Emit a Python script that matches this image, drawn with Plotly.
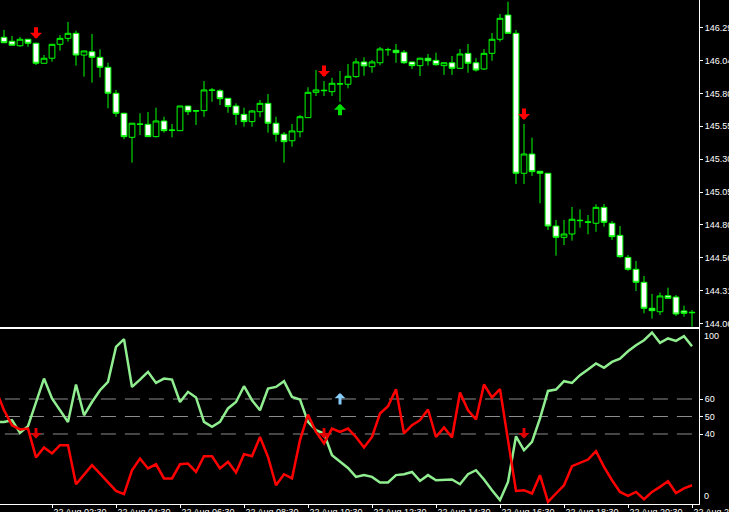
import plotly.graph_objects as go

# ---- 15-minute bars, 22 Aug 01:00 ... 22:30 (index 0..86) ----
opens = [146.224, 146.194, 146.160, 146.209, 146.179, 146.028, 146.066, 146.171, 146.216, 146.254,
         146.090, 146.115, 146.073, 145.998, 145.802, 145.651, 145.470, 145.570, 145.568, 145.475,
         145.593, 145.525, 145.520, 145.706, 145.671, 145.671, 145.827, 145.821, 145.764, 145.706,
         145.643, 145.588, 145.663, 145.726, 145.576, 145.493, 145.444, 145.512, 145.618, 145.809,
         145.821, 145.814, 145.872, 145.870, 145.927, 146.038, 146.002, 146.032, 146.130, 146.126,
         146.111, 146.038, 146.010, 146.066, 146.050, 146.010, 146.032, 145.990, 146.103, 146.032,
         145.985, 146.103, 146.209, 146.392, 146.254, 145.199, 145.344, 145.214, 145.199, 144.801,
         144.716, 144.741, 144.841, 144.829, 144.822, 144.942, 144.822, 144.731, 144.565, 144.475,
         144.377, 144.181, 144.155, 144.276, 144.266, 144.161, 144.151]
highs = [146.279, 146.234, 146.226, 146.211, 146.183, 146.090, 146.173, 146.241, 146.339, 146.274,
         146.122, 146.249, 146.133, 146.032, 145.827, 145.655, 145.578, 145.651, 145.661, 145.693,
         145.625, 145.570, 145.707, 145.707, 145.676, 145.894, 145.842, 145.832, 145.766, 145.726,
         145.693, 145.676, 145.751, 145.796, 145.625, 145.510, 145.570, 145.638, 145.847, 145.977,
         145.894, 145.919, 145.970, 146.023, 146.066, 146.073, 146.053, 146.151, 146.145, 146.173,
         146.128, 146.040, 146.070, 146.098, 146.108, 146.033, 146.083, 146.136, 146.173, 146.066,
         146.136, 146.256, 146.399, 146.492, 146.279, 145.570, 145.467, 145.216, 145.201, 144.847,
         144.847, 144.945, 144.927, 144.884, 144.965, 144.967, 144.839, 144.801, 144.583, 144.538,
         144.424, 144.289, 144.299, 144.336, 144.281, 144.201, 144.168]
lows = [146.180, 146.162, 146.153, 146.153, 146.015, 146.026, 146.040, 146.123, 146.191, 146.010,
        145.927, 145.882, 145.922, 145.689, 145.625, 145.455, 145.279, 145.487, 145.472, 145.469,
        145.505, 145.470, 145.519, 145.638, 145.563, 145.625, 145.738, 145.714, 145.655, 145.563,
        145.550, 145.550, 145.621, 145.505, 145.437, 145.279, 145.399, 145.470, 145.617, 145.781,
        145.781, 145.781, 145.738, 145.839, 145.919, 145.934, 145.957, 146.013, 146.085, 146.032,
        146.023, 145.985, 145.932, 146.010, 146.010, 145.940, 145.940, 145.985, 145.957, 145.965,
        145.977, 146.047, 146.191, 146.252, 145.118, 145.118, 145.178, 144.973, 144.771, 144.578,
        144.658, 144.691, 144.789, 144.739, 144.758, 144.796, 144.696, 144.562, 144.464, 144.311,
        144.143, 144.103, 144.131, 144.255, 144.123, 144.118, 144.042]
closes = [146.183, 146.164, 146.209, 146.179, 146.028, 146.066, 146.171, 146.216, 146.254, 146.090,
          146.121, 146.073, 145.998, 145.802, 145.651, 145.475, 145.576, 145.568, 145.475, 145.593,
          145.520, 145.523, 145.706, 145.663, 145.668, 145.827, 145.824, 145.761, 145.701, 145.643,
          145.588, 145.668, 145.726, 145.576, 145.493, 145.437, 145.518, 145.625, 145.809, 145.827,
          145.824, 145.877, 145.873, 145.930, 146.038, 146.008, 146.038, 146.136, 146.131, 146.108,
          146.032, 146.010, 146.066, 146.047, 146.017, 146.032, 145.990, 146.098, 146.028, 145.977,
          146.103, 146.209, 146.367, 146.254, 145.199, 145.344, 145.211, 145.199, 144.801, 144.716,
          144.741, 144.852, 144.844, 144.832, 144.942, 144.829, 144.721, 144.570, 144.475, 144.377,
          144.181, 144.163, 144.274, 144.256, 144.138, 144.143, 144.148]

# ---- oscillator (index -1 ... 86) ----
green_line = [46.9, 46.9, 47.9, 40.6, 44.5, 58.2, 71.7, 60.3, 53.6, 46.9,
              68.3, 50.7, 58.3, 65.0, 69.8, 89.8, 94.2, 66.9, 71.1, 75.5,
              69.2, 71.7, 71.1, 58.3, 64.1, 60.9, 46.9, 44.1, 46.9, 54.6,
              58.3, 67.3, 59.3, 53.6, 66.0, 66.9, 70.2, 61.2, 59.7, 46.9,
              42.2, 40.3, 27.9, 24.1, 20.6, 15.5, 16.5, 15.5, 12.3, 12.3,
              16.5, 17.0, 18.3, 13.2, 16.5, 13.6, 14.0, 14.0, 11.3, 17.0,
              19.3, 14.0, 7.9, 2.2, 12.6, 38.7, 30.7, 35.5, 48.9, 64.6,
              65.4, 70.2, 69.2, 73.6, 76.9, 80.3, 77.8, 81.2, 83.1, 87.3,
              90.7, 93.6, 98.0, 92.1, 94.6, 93.2, 95.9, 90.2]
red_line = [65.0, 53.6, 45.0, 42.6, 43.1, 26.6, 32.3, 28.9, 33.6, 33.6,
            11.3, 16.9, 22.2, 17.4, 12.3, 7.5, 5.6, 19.3, 26.0, 20.3,
            22.7, 14.6, 14.6, 22.7, 23.1, 18.3, 27.3, 27.3, 20.3, 24.1,
            18.0, 28.5, 27.3, 38.3, 26.9, 10.7, 17.0, 14.6, 36.5, 51.1,
            41.2, 34.6, 43.1, 41.2, 43.1, 38.3, 32.3, 38.3, 51.7, 55.9,
            65.6, 40.3, 45.0, 47.9, 54.0, 38.3, 43.7, 38.0, 63.7, 53.6,
            48.3, 68.3, 60.9, 65.6, 36.5, 7.5, 7.9, 6.0, 16.5, 1.2,
            6.0, 10.7, 21.6, 23.5, 25.4, 30.2, 21.2, 13.6, 6.9, 4.6,
            6.9, 2.7, 6.9, 9.8, 13.0, 6.3, 8.9, 10.7]

sell_signals = [4, 40, 65]
buy_signals = [42]
levels = [40, 50, 60]
osc_sell_mark = 37.5
osc_buy_mark = 63.5

price_ticks = [144.065, 144.313, 144.561, 144.809, 145.057, 145.305, 145.553, 145.801, 146.049, 146.297]
price_tick_labels = ["144.065", "144.313", "144.561", "144.809", "145.057", "145.305",
                     "145.553", "145.801", "146.049", "146.297"]
time_tick_idx = [6, 14, 22, 30, 38, 46, 54, 62, 70, 78, 86]
time_tick_labels = ["22 Aug 02:30", "22 Aug 04:30", "22 Aug 06:30", "22 Aug 08:30", "22 Aug 10:30",
                    "22 Aug 12:30", "22 Aug 14:30", "22 Aug 16:30", "22 Aug 18:30", "22 Aug 20:30",
                    "22 Aug 22:30"]
first_time_idx = -2
first_time_label = "22 Aug 00:30"

bar_x = list(range(len(opens)))
line_x = list(range(-1, len(opens)))

FONT = "Liberation Sans, Arial, sans-serif"
LIME = "#00ff00"

fig = go.Figure()
fig.add_trace(go.Candlestick(
    x=bar_x, open=opens, high=highs, low=lows, close=closes,
    increasing=dict(line=dict(color=LIME, width=1), fillcolor="#000000"),
    decreasing=dict(line=dict(color=LIME, width=1), fillcolor="#ffffff"),
    whiskerwidth=0, xaxis="x", yaxis="y", showlegend=False, hoverinfo="skip"))
fig.add_trace(go.Scatter(x=line_x, y=green_line, mode="lines", xaxis="x2", yaxis="y2",
                         line=dict(color="#90ee90", width=2.5), showlegend=False))
fig.add_trace(go.Scatter(x=line_x, y=red_line, mode="lines", xaxis="x2", yaxis="y2",
                         line=dict(color="#ff0000", width=2.5), showlegend=False))

shapes = []
for lv in levels:
    shapes.append(dict(type="line", xref="paper", yref="y2", x0=0.007, x1=1, y0=lv, y1=lv,
                       line=dict(color="#8c8c8c", width=1, dash="15px,9px"), layer="below"))

xrange = [-0.5, len(opens) - 1 + 0.875]

annotations = []
for i in sell_signals:
    annotations.append(dict(x=i, y=highs[i], xref="x", yref="y", yshift=4, text="",
                            showarrow=True, arrowhead=1, arrowsize=0.5, arrowwidth=4,
                            arrowcolor="#ff0000", ax=0, ay=-13))
    annotations.append(dict(x=i, y=osc_sell_mark, xref="x2", yref="y2", text="",
                            showarrow=True, arrowhead=1, arrowsize=0.6, arrowwidth=3,
                            arrowcolor="#e00000", ax=0, ay=-12))
for i in buy_signals:
    annotations.append(dict(x=i, y=lows[i], xref="x", yref="y", yshift=-2, text="",
                            showarrow=True, arrowhead=1, arrowsize=0.5, arrowwidth=4,
                            arrowcolor="#00e000", ax=0, ay=13))
    annotations.append(dict(x=i, y=osc_buy_mark, xref="x2", yref="y2", text="",
                            showarrow=True, arrowhead=1, arrowsize=0.6, arrowwidth=3,
                            arrowcolor="#87cefa", ax=0, ay=13))
annotations.append(dict(x=1, xref="paper", y=100, yref="y2", yshift=-7, xshift=3,
                        xanchor="left", yanchor="middle", text="100", showarrow=False,
                        font=dict(family=FONT, size=9, color="white")))
annotations.append(dict(x=1, xref="paper", y=0, yref="y2", yshift=8, xshift=3,
                        xanchor="left", yanchor="middle", text="0", showarrow=False,
                        font=dict(family=FONT, size=9, color="white")))
# first time label: its tick lies just left of the visible window
first_frac = (first_time_idx - xrange[0]) / (xrange[1] - xrange[0])
annotations.append(dict(x=first_frac, xref="paper", y=0, yref="paper", yshift=-4, xshift=1,
                        xanchor="left", yanchor="top", text=first_time_label, showarrow=False,
                        font=dict(family=FONT, size=9, color="white")))

fig.update_layout(
    width=729, height=512, margin=dict(l=0, r=30, t=0, b=8, autoexpand=False),
    paper_bgcolor="#000000", plot_bgcolor="#000000", showlegend=False,
    font=dict(family=FONT, size=9, color="white"),
    boxgap=0.15, boxgroupgap=0.15,
    shapes=shapes, annotations=annotations,
    xaxis=dict(domain=[0, 1], range=xrange, anchor="y", showline=True, linecolor="white",
               linewidth=1, showticklabels=False, ticks="", showgrid=False, zeroline=False,
               rangeslider=dict(visible=False), matches="x2", automargin=False),
    yaxis=dict(domain=[0.3512, 1], range=[144.040, 146.505], side="right", anchor="x",
               showline=True, linecolor="white", linewidth=1, ticks="outside", ticklen=3,
               tickcolor="white", tickvals=price_ticks, ticktext=price_tick_labels,
               showgrid=False, zeroline=False, automargin=False),
    xaxis2=dict(domain=[0, 1], range=xrange, anchor="y2", showline=True, mirror=True,
                linecolor="white", linewidth=1, ticks="outside", ticklen=3, tickcolor="white",
                tickvals=time_tick_idx, ticktext=time_tick_labels, ticklabelshift=28,
                ticklabelstandoff=-4,
                ticklabeloverflow="allow", showgrid=False, zeroline=False, automargin=False),
    yaxis2=dict(domain=[0, 0.3472], range=[0, 100], side="right", anchor="x2",
                showline=True, linecolor="white", linewidth=1, ticks="outside", ticklen=3,
                tickcolor="white", tickvals=levels, showgrid=False, zeroline=False,
                automargin=False),
)

fig.write_html("out.html", config={"displayModeBar": False, "staticPlot": True},
               post_script="document.body.style.margin='0';document.body.style.overflow='hidden';")
